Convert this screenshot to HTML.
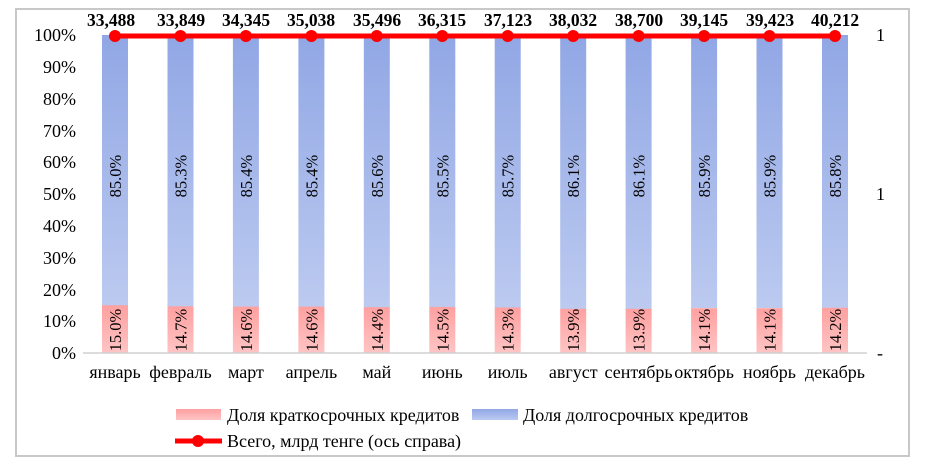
<!DOCTYPE html>
<html><head><meta charset="utf-8"><style>
html,body{margin:0;padding:0;background:#fff;}
svg{display:block;font-family:"Liberation Serif",serif;}
</style></head><body>
<svg width="925" height="469" viewBox="0 0 925 469" xmlns="http://www.w3.org/2000/svg">
<defs>
<linearGradient id="bl" x1="0" y1="0" x2="0" y2="1"><stop offset="0" stop-color="#91a7e5"/><stop offset="1" stop-color="#bccaf0"/></linearGradient>
<linearGradient id="pk" x1="0" y1="0" x2="0" y2="1"><stop offset="0" stop-color="#ffa0a0"/><stop offset="1" stop-color="#ffc4c4"/></linearGradient>
</defs>
<rect x="16" y="9" width="893" height="447" fill="#fff" stroke="#c8c8c8" stroke-width="2"/>
<g font-size="18" text-anchor="end">
<text x="76" y="41">100%</text><text x="76" y="73">90%</text><text x="76" y="105">80%</text><text x="76" y="137">70%</text><text x="76" y="168">60%</text><text x="76" y="200">50%</text><text x="76" y="232">40%</text><text x="76" y="264">30%</text><text x="76" y="296">20%</text><text x="76" y="327">10%</text><text x="76" y="359">0%</text>
</g>
<g font-size="18"><text x="876" y="41">1</text><text x="876" y="200">1</text><text x="877" y="359">-</text></g>
<g fill="url(#bl)">
<rect x="102" y="35" width="26" height="271"/><rect x="167.5" y="35" width="26" height="272"/><rect x="232.9" y="35" width="26" height="272"/><rect x="298.4" y="35" width="26" height="272"/><rect x="363.8" y="35" width="26" height="273"/><rect x="429.3" y="35" width="26" height="272"/><rect x="494.7" y="35" width="26" height="273"/><rect x="560.2" y="35" width="26" height="274"/><rect x="625.6" y="35" width="26" height="274"/><rect x="691.1" y="35" width="26" height="273"/><rect x="756.5" y="35" width="26" height="273"/><rect x="822" y="35" width="26" height="273"/>
</g>
<g fill="url(#pk)">
<rect x="102" y="305.3" width="26" height="47.7"/><rect x="167.5" y="306.3" width="26" height="46.7"/><rect x="232.9" y="306.6" width="26" height="46.4"/><rect x="298.4" y="306.6" width="26" height="46.4"/><rect x="363.8" y="307.2" width="26" height="45.8"/><rect x="429.3" y="306.9" width="26" height="46.1"/><rect x="494.7" y="307.5" width="26" height="45.5"/><rect x="560.2" y="308.8" width="26" height="44.2"/><rect x="625.6" y="308.8" width="26" height="44.2"/><rect x="691.1" y="308.2" width="26" height="44.8"/><rect x="756.5" y="308.2" width="26" height="44.8"/><rect x="822" y="307.8" width="26" height="45.2"/>
</g>
<line x1="83" y1="353" x2="867" y2="353" stroke="#d0d0d0" stroke-width="1.5"/>
<g font-size="16.5" text-anchor="middle">
<text transform="translate(121,176) rotate(-90)">85.0%</text><text transform="translate(186.5,176) rotate(-90)">85.3%</text><text transform="translate(251.9,176) rotate(-90)">85.4%</text><text transform="translate(317.4,176) rotate(-90)">85.4%</text><text transform="translate(382.8,176) rotate(-90)">85.6%</text><text transform="translate(448.3,176) rotate(-90)">85.5%</text><text transform="translate(513.7,176) rotate(-90)">85.7%</text><text transform="translate(579.2,176) rotate(-90)">86.1%</text><text transform="translate(644.6,176) rotate(-90)">86.1%</text><text transform="translate(710.1,176) rotate(-90)">85.9%</text><text transform="translate(775.5,176) rotate(-90)">85.9%</text><text transform="translate(841,176) rotate(-90)">85.8%</text>
<text transform="translate(121,330) rotate(-90)">15.0%</text><text transform="translate(186.5,330) rotate(-90)">14.7%</text><text transform="translate(251.9,330) rotate(-90)">14.6%</text><text transform="translate(317.4,330) rotate(-90)">14.6%</text><text transform="translate(382.8,330) rotate(-90)">14.4%</text><text transform="translate(448.3,330) rotate(-90)">14.5%</text><text transform="translate(513.7,330) rotate(-90)">14.3%</text><text transform="translate(579.2,330) rotate(-90)">13.9%</text><text transform="translate(644.6,330) rotate(-90)">13.9%</text><text transform="translate(710.1,330) rotate(-90)">14.1%</text><text transform="translate(775.5,330) rotate(-90)">14.1%</text><text transform="translate(841,330) rotate(-90)">14.2%</text>
</g>
<polyline points="115,36 835,36" stroke="#ff0000" stroke-width="5" fill="none"/>
<g fill="#ff0000">
<circle cx="115" cy="36" r="6"/><circle cx="180.5" cy="36" r="6"/><circle cx="245.9" cy="36" r="6"/><circle cx="311.4" cy="36" r="6"/><circle cx="376.8" cy="36" r="6"/><circle cx="442.3" cy="36" r="6"/><circle cx="507.7" cy="36" r="6"/><circle cx="573.2" cy="36" r="6"/><circle cx="638.6" cy="36" r="6"/><circle cx="704.1" cy="36" r="6"/><circle cx="769.5" cy="36" r="6"/><circle cx="835" cy="36" r="6"/>
</g>
<g font-size="17.5" font-weight="bold" text-anchor="middle">
<text x="111" y="26">33,488</text><text x="181" y="26">33,849</text><text x="246" y="26">34,345</text><text x="311" y="26">35,038</text><text x="377" y="26">35,496</text><text x="442" y="26">36,315</text><text x="508" y="26">37,123</text><text x="573" y="26">38,032</text><text x="639" y="26">38,700</text><text x="704" y="26">39,145</text><text x="770" y="26">39,423</text><text x="835" y="26">40,212</text>
</g>
<g font-size="18" text-anchor="middle">
<text x="115" y="378">январь</text><text x="180.5" y="378">февраль</text><text x="245.9" y="378">март</text><text x="311.4" y="378">апрель</text><text x="376.8" y="378">май</text><text x="442.3" y="378">июнь</text><text x="507.7" y="378">июль</text><text x="573.2" y="378">август</text><text x="638.6" y="378">сентябрь</text><text x="704.1" y="378">октябрь</text><text x="769.5" y="378">ноябрь</text><text x="835" y="378">декабрь</text>
</g>
<rect x="176" y="409" width="45" height="11" fill="url(#pk)"/>
<text x="227" y="421" font-size="18">Доля краткосрочных кредитов</text>
<rect x="472" y="409" width="46" height="11" fill="url(#bl)"/>
<text x="523" y="421" font-size="18">Доля долгосрочных кредитов</text>
<line x1="175" y1="441" x2="222" y2="441" stroke="#ff0000" stroke-width="5"/>
<circle cx="198" cy="441" r="6" fill="#ff0000"/>
<text x="227" y="447" font-size="18">Всего, млрд тенге (ось справа)</text>
</svg>
</body></html>
